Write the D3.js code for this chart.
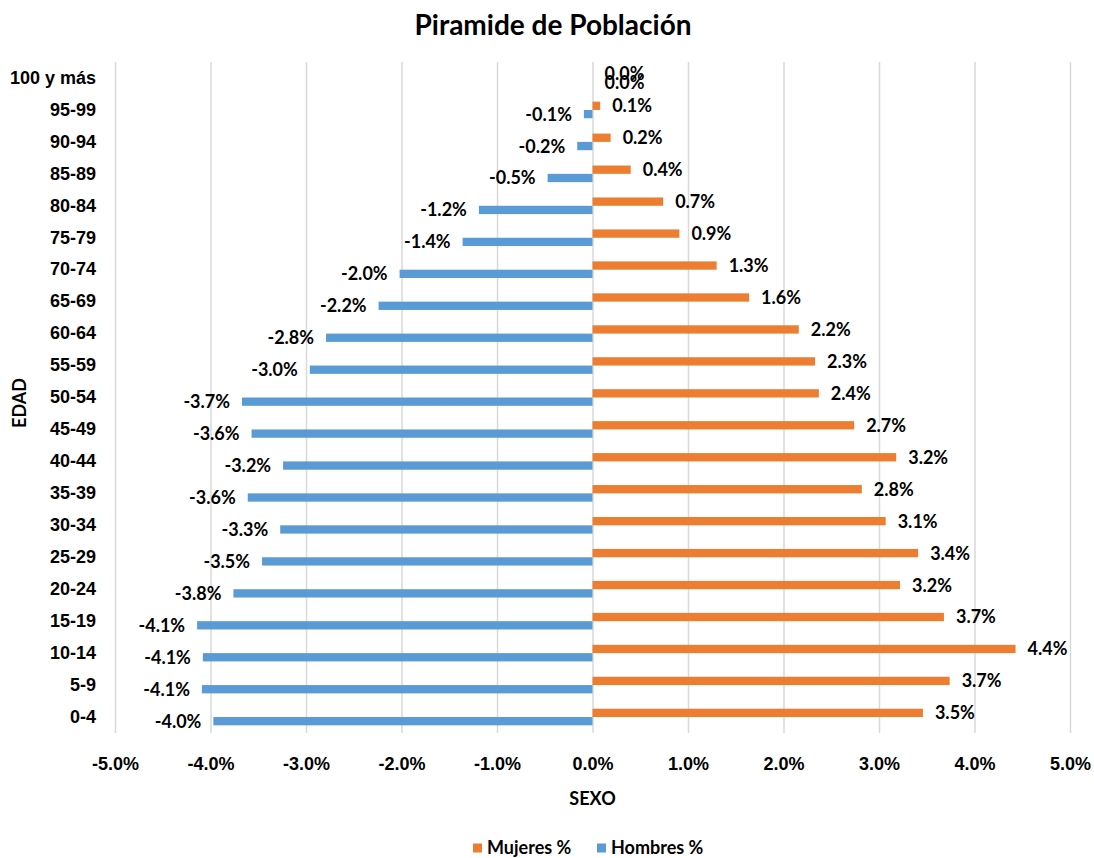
<!DOCTYPE html>
<html>
<head>
<meta charset="utf-8">
<script src="https://cdn.jsdelivr.net/npm/d3@7"></script>
<style>
    body { margin: 0; background: #fff; }
    svg { display: block; font-family: Lato, "Open Sans", sans-serif; font-weight: bold; }
</style>
</head>
<body>
<svg></svg>
<script>
// age groups, bottom to top
const ages = ["0-4", "5-9", "10-14", "15-19", "20-24", "25-29", "30-34", "35-39", "40-44", "45-49",
    "50-54", "55-59", "60-64", "65-69", "70-74", "75-79", "80-84", "85-89", "90-94", "95-99", "100 y más"]

// percent of population
const mujeres = [3.46, 3.74, 4.43, 3.68, 3.22, 3.41, 3.07, 2.82, 3.18, 2.74,
    2.37, 2.33, 2.16, 1.64, 1.30, 0.91, 0.74, 0.40, 0.19, 0.08, 0]
const hombres = [-3.97, -4.09, -4.08, -4.14, -3.76, -3.46, -3.27, -3.61, -3.24, -3.57,
    -3.67, -2.96, -2.79, -2.24, -2.02, -1.36, -1.19, -0.47, -0.16, -0.09, 0]

const xTicks = [-5, -4, -3, -2, -1, 0, 1, 2, 3, 4, 5]
const series = ["Mujeres %", "Hombres %"]

const
    margin = {
        top: 62,
        right: 24,
        bottom: 125,
        left: 115
    },
    width = 1094,
    height = 858

const colors = { "Mujeres %": "#ED7D31", "Hombres %": "#5B9BD5" }

const data = ages.map((a, i) => ({ age: a, "Mujeres %": mujeres[i], "Hombres %": hombres[i] }))

const x = d3.scaleLinear()
    .domain([-5, 5])
    .range([margin.left, width - margin.right])

const y = d3.scaleBand()
    .domain(ages.slice().reverse())
    .range([margin.top, height - margin.bottom])

const ySub = d3.scaleBand()
    .domain(series)
    .range([y.bandwidth() * 0.24, y.bandwidth() * 0.76])

// plain hyphen like Excel, not the unicode minus of d3.format
const fmt = v => v.toFixed(1) + "%"

const xAxis = g => g
    .attr("transform", `translate(0,${height - margin.bottom})`)
    .call(d3.axisBottom(x).tickValues(xTicks).tickFormat(fmt)
        .tickSize(-(height - margin.bottom - margin.top)).tickPadding(24))
    .call(g => g.select(".domain").remove())
    .call(g => g.selectAll(".tick line").attr("stroke", "#d9d9d9").attr("stroke-width", 1.5))
    .call(g => g.selectAll(".tick text").attr("fill", "#000").attr("font-size", 18))

const yAxis = g => g
    .attr("transform", `translate(${margin.left},0)`)
    .call(d3.axisLeft(y).tickSize(0).tickPadding(19))
    .call(g => g.select(".domain").remove())
    .call(g => g.selectAll(".tick text").attr("fill", "#000").attr("font-size", 18))

function render() {
    const svg = d3.select("svg")
        .attr("width", width)
        .attr("height", height)
        .attr("viewBox", [0, 0, width, height])

    svg.append("text")
        .attr("x", 553)
        .attr("y", 25)
        .attr("dy", "0.35em")
        .attr("text-anchor", "middle")
        .attr("font-size", 28)
        .text("Piramide de Población")

    svg.append("g")
        .attr("class", "x-axis")
        .attr("font-family", null)
        .call(xAxis)

    svg.append("g")
        .attr("class", "y-axis")
        .attr("font-family", null)
        .call(yAxis)

    const groups = svg.append("g")
        .attr("class", "bars")
        .selectAll("g")
        .data(data)
        .join("g")
        .attr("transform", d => `translate(0,${y(d.age)})`)

    const items = groups.selectAll("g")
        .data(d => series.map(s => ({ key: s, value: d[s] })))
        .join("g")

    items.append("rect")
        .attr("x", d => x(Math.min(0, d.value)))
        .attr("y", d => ySub(d.key))
        .attr("width", d => Math.abs(x(d.value) - x(0)))
        .attr("height", ySub.bandwidth())
        .attr("fill", d => colors[d.key])

    items.append("text")
        .attr("x", d => d.value < 0 ? x(d.value) - 12 : x(d.value) + 12)
        .attr("y", d => ySub(d.key) + ySub.bandwidth() / 2)
        .attr("dy", "0.36em")
        .attr("text-anchor", d => d.value < 0 ? "end" : "start")
        .attr("font-size", 18)
        .text(d => fmt(d.value))

    // axis titles
    svg.append("text")
        .attr("x", x(0))
        .attr("y", 799)
        .attr("dy", "0.35em")
        .attr("text-anchor", "middle")
        .attr("font-size", 18)
        .text("SEXO")

    svg.append("text")
        .attr("transform", "translate(20,403) rotate(-90)")
        .attr("dy", "0.35em")
        .attr("text-anchor", "middle")
        .attr("font-size", 18)
        .text("EDAD")

    // legend
    const legend = svg.append("g")
        .attr("class", "legend")
        .selectAll("g")
        .data(series)
        .join("g")
        .attr("transform", (d, i) => `translate(${[473, 597][i]},848)`)

    legend.append("rect")
        .attr("y", -4.5)
        .attr("width", 9)
        .attr("height", 9)
        .attr("fill", d => colors[d])

    legend.append("text")
        .attr("x", 14)
        .attr("dy", "0.36em")
        .attr("font-size", 18)
        .text(d => d)
}

render()
</script>
</body>
</html>
